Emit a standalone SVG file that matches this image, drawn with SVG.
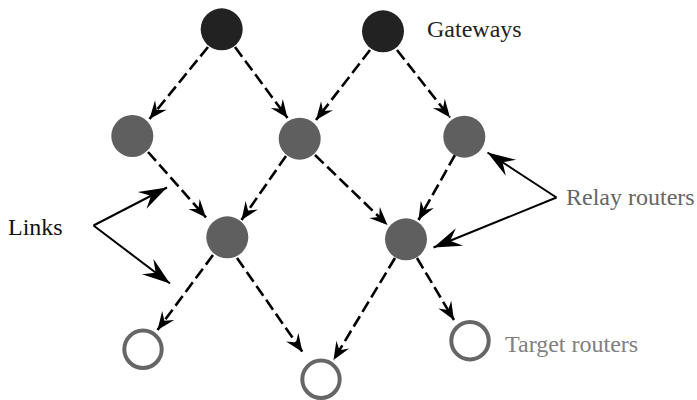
<svg xmlns="http://www.w3.org/2000/svg" width="697" height="400" viewBox="0 0 697 400">
<style>
.gw{fill:#222}
.relay{fill:#5f5f5f}
.target{fill:#fff;stroke:#666;stroke-width:4}
.dash{stroke:#000;stroke-width:2.6;stroke-dasharray:12 5;fill:none;marker-end:url(#hd)}
.solid{stroke:#000;stroke-width:2;fill:none;marker-end:url(#hs)}
text{font-family:"Liberation Serif","Times New Roman",serif;font-size:24px}
</style>
<defs>
<marker id="hd" viewBox="-19 -9 21 18" refX="0" refY="0" markerWidth="21" markerHeight="18" markerUnits="userSpaceOnUse" orient="auto">
<path d="M0,0 L-18,-7.5 L-11.5,0 L-18,7.5 Z" fill="#000"/>
</marker>
<marker id="hs" viewBox="-30 -11 32 22" refX="0" refY="0" markerWidth="32" markerHeight="22" markerUnits="userSpaceOnUse" orient="auto">
<path d="M0,0 L-28,-9.5 L-18,0 L-28,9.5 Z" fill="#000"/>
</marker>
</defs>
<g id="connectors">
<line class="dash" x1="208" y1="47" x2="149.5" y2="119"/>
<line class="dash" x1="235" y1="47" x2="287.5" y2="118"/>
<line class="dash" x1="370" y1="50" x2="316" y2="120"/>
<line class="dash" x1="397" y1="50" x2="450" y2="117.5"/>
<line class="dash" x1="148" y1="152" x2="206" y2="217.5"/>
<line class="dash" x1="286" y1="156" x2="241.5" y2="220"/>
<line class="dash" x1="315" y1="155" x2="387.5" y2="225"/>
<line class="dash" x1="455" y1="155" x2="418.5" y2="220"/>
<line class="dash" x1="213" y1="255" x2="157.5" y2="330"/>
<line class="dash" x1="237" y1="258" x2="302.5" y2="352"/>
<line class="dash" x1="395" y1="258" x2="333.5" y2="360"/>
<line class="dash" x1="417" y1="258" x2="454" y2="320"/>
<polyline class="solid" points="93.5,225.5 167,187.5"/>
<polyline class="solid" points="93.5,225.5 170,283.5"/>
<polyline class="solid" points="556.5,197.5 487.5,152.5"/>
<polyline class="solid" points="556.5,197.5 433.5,247.5"/>
</g>
<g id="gateway1"><circle class="gw" cx="221.7" cy="29.3" r="21"/></g>
<g id="gateway2"><circle class="gw" cx="383" cy="31.3" r="21"/></g>
<g id="relay1"><circle class="relay" cx="132.3" cy="136" r="21"/></g>
<g id="relay2"><circle class="relay" cx="299.7" cy="138.7" r="21"/></g>
<g id="relay3"><circle class="relay" cx="464.3" cy="136.7" r="21"/></g>
<g id="relay4"><circle class="relay" cx="227.3" cy="237.3" r="21"/></g>
<g id="relay5"><circle class="relay" cx="406" cy="239.3" r="21"/></g>
<g id="target1"><circle class="target" cx="143" cy="349.3" r="18.7"/></g>
<g id="target2"><circle class="target" cx="321" cy="379.3" r="18.7"/></g>
<g id="target3"><circle class="target" cx="470" cy="340.7" r="18.7"/></g>
<g id="label-gateways"><text x="427" y="37" fill="#222">Gateways</text></g>
<g id="label-links"><text x="8" y="234.5" fill="#111">Links</text></g>
<g id="label-relay"><text x="566" y="205" fill="#666">Relay routers</text></g>
<g id="label-target"><text x="505" y="352" fill="#808080">Target routers</text></g>
</svg>
